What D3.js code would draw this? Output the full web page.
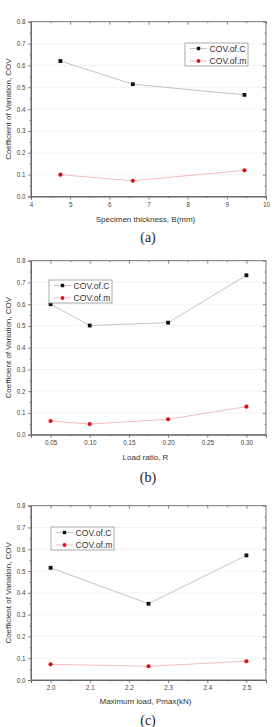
<!DOCTYPE html>
<html><head><meta charset="utf-8">
<script src="https://cdn.jsdelivr.net/npm/d3@7"></script>
<style>body{margin:0;background:#fff;}svg{display:block;}</style>
</head><body>
<script>
// Panel (a)
const thicknessB = [4.75, 6.6, 9.45];
const covC_a = [0.62, 0.514, 0.465];
const covM_a = [0.10, 0.072, 0.12];
// Panel (b)
const loadRatioR = [0.05, 0.10, 0.20, 0.30];
const covC_b = [0.60, 0.502, 0.515, 0.733];
const covM_b = [0.063, 0.049, 0.071, 0.129];
// Panel (c)
const maxLoadP = [2.0, 2.25, 2.5];
const covC_c = [0.515, 0.35, 0.572];
const covM_c = [0.072, 0.063, 0.086];

const yTicks = [0.0,0.1,0.2,0.3,0.4,0.5,0.6,0.7,0.8];
const seriesNames = ["COV.of.C", "COV.of.m"];
const yTitle = "Coefficient of Variation, COV";

const panels = [
  {x: thicknessB, c: covC_a, m: covM_a, xdom:[4,10], xt:[4,5,6,7,8,9,10], xminor:[4.5,5.5,6.5,7.5,8.5,9.5], fmt: d3.format("d"),
   top:21.7, bottom:196.5, xlabel:"Specimen thickness, B(mm)", caption:"(a)", xlabY:219, capY:237, leg:[185,43]},
  {x: loadRatioR, c: covC_b, m: covM_b, xdom:[0.025,0.325], xt:[0.05,0.10,0.15,0.20,0.25,0.30], xminor:[0.075,0.125,0.175,0.225,0.275], fmt: d3.format(".2f"),
   top:260.7, bottom:434.7, xlabel:"Load ratio, R", caption:"(b)", xlabY:457, capY:477, leg:[49,280]},
  {x: maxLoadP, c: covC_c, m: covM_c, xdom:[1.95,2.55], xt:[2.0,2.1,2.2,2.3,2.4,2.5], xminor:[2.05,2.15,2.25,2.35,2.45], fmt: d3.format(".1f"),
   top:505.7, bottom:680, xlabel:"Maximum load, Pmax(kN)", caption:"(c)", xlabY:701, capY:720, leg:[51,527]}
];

const W = 272, H = 727;
const left = 31, right = 266;
const svg = d3.select("body").append("svg").attr("width", W).attr("height", H);
const axisCol = "#666", textCol = "#444";
const sans = "'Liberation Sans', Arial, sans-serif";

panels.forEach(p => {
  const x = d3.scaleLinear().domain(p.xdom).range([left, right]);
  const y = d3.scaleLinear().domain([0, 0.8]).range([p.bottom, p.top]);
  const g = svg.append("g");

  // faint gridlines
  g.selectAll(".grid").data(yTicks.slice(1, -1)).enter().append("line")
    .attr("x1", left).attr("x2", right).attr("y1", d => y(d)).attr("y2", d => y(d))
    .attr("stroke", "#f0f0f0").attr("stroke-width", 0.8);

  const yMinor = d3.range(0.05, 0.8, 0.1);

  // left axis
  g.append("g").attr("transform", `translate(${left},0)`)
    .call(d3.axisLeft(y).tickValues(yTicks).tickFormat(d3.format(".1f")).tickSize(3).tickPadding(2.5));
  g.append("g").attr("transform", `translate(${left},0)`)
    .call(d3.axisLeft(y).tickValues(yMinor).tickFormat("").tickSize(1.5)).call(a => a.select(".domain").remove());
  // right axis (inward)
  g.append("g").attr("transform", `translate(${right},0)`)
    .call(d3.axisLeft(y).tickValues(yTicks).tickFormat("").tickSize(3)).call(a => a.select(".domain").remove());
  g.append("g").attr("transform", `translate(${right},0)`)
    .call(d3.axisLeft(y).tickValues(yMinor).tickFormat("").tickSize(1.5)).call(a => a.select(".domain").remove());
  // bottom axis
  g.append("g").attr("transform", `translate(0,${p.bottom})`)
    .call(d3.axisBottom(x).tickValues(p.xt).tickFormat(p.fmt).tickSize(3).tickPadding(3));
  g.append("g").attr("transform", `translate(0,${p.bottom})`)
    .call(d3.axisBottom(x).tickValues(p.xminor).tickFormat("").tickSize(1.5)).call(a => a.select(".domain").remove());
  // top axis (inward)
  g.append("g").attr("transform", `translate(0,${p.top})`)
    .call(d3.axisBottom(x).tickValues(p.xt).tickFormat("").tickSize(3)).call(a => a.select(".domain").remove());
  g.append("g").attr("transform", `translate(0,${p.top})`)
    .call(d3.axisBottom(x).tickValues(p.xminor).tickFormat("").tickSize(1.5)).call(a => a.select(".domain").remove());

  // frame
  g.append("rect").attr("x", left).attr("y", p.top).attr("width", right - left).attr("height", p.bottom - p.top)
    .attr("fill", "none").attr("stroke", axisCol).attr("stroke-width", 0.9);

  g.selectAll(".domain").attr("stroke", axisCol);
  g.selectAll(".tick line").attr("stroke", axisCol).attr("stroke-width", 0.8);
  g.selectAll(".tick text").attr("fill", textCol).style("font-family", sans).style("font-size", "6.3px");

  // lines
  const lineC = d3.line().x((d, i) => x(p.x[i])).y(d => y(d));
  g.append("path").datum(p.c).attr("d", lineC).attr("fill", "none").attr("stroke", "#aaa").attr("stroke-width", 0.7);
  g.append("path").datum(p.m).attr("d", lineC).attr("fill", "none").attr("stroke", "#f0a0a0").attr("stroke-width", 0.7);

  g.selectAll(".mc").data(p.c).enter().append("rect")
    .attr("x", (d, i) => x(p.x[i]) - 1.9).attr("y", d => y(d) - 1.9).attr("width", 3.8).attr("height", 3.8).attr("fill", "#111");
  g.selectAll(".mm").data(p.m).enter().append("circle")
    .attr("cx", (d, i) => x(p.x[i])).attr("cy", d => y(d)).attr("r", 2.1).attr("fill", "#e01010");

  // legend
  const [lx, ly] = p.leg;
  const lg = g.append("g");
  lg.append("rect").attr("x", lx).attr("y", ly).attr("width", 63).attr("height", 23)
    .attr("fill", "#fff").attr("stroke", "#888").attr("stroke-width", 0.7);
  seriesNames.forEach((name, i) => {
    const ry = ly + 5.5 + i * 12.5;
    lg.append("line").attr("x1", lx + 5).attr("x2", lx + 22).attr("y1", ry).attr("y2", ry)
      .attr("stroke", i === 0 ? "#aaa" : "#f0a0a0").attr("stroke-width", 0.7);
    if (i === 0) lg.append("rect").attr("x", lx + 13.5 - 1.7).attr("y", ry - 1.7).attr("width", 3.4).attr("height", 3.4).attr("fill", "#111");
    else lg.append("circle").attr("cx", lx + 13.5).attr("cy", ry).attr("r", 1.9).attr("fill", "#e01010");
    lg.append("text").attr("x", lx + 24.5).attr("y", ry).attr("dy", "0.35em").text(name)
      .attr("fill", "#333").style("font-family", sans).style("font-size", "8.6px");
  });

  // axis titles
  g.append("text").attr("x", (left + right) / 2 - 3).attr("y", p.xlabY).attr("dy", "0.35em").attr("text-anchor", "middle")
    .text(p.xlabel).attr("fill", "#333").style("font-family", sans).style("font-size", "8px");
  g.append("text").attr("transform", `translate(8,${(p.top + p.bottom) / 2}) rotate(-90)`).attr("dy", "0.35em")
    .attr("text-anchor", "middle").text(yTitle).attr("fill", "#333").style("font-family", sans).style("font-size", "8px");
  // caption
  g.append("text").attr("x", 148).attr("y", p.capY).attr("dy", "0.35em").attr("text-anchor", "middle")
    .text(p.caption).attr("fill", "#222").style("font-family", "'Liberation Serif', 'Times New Roman', serif").style("font-size", "14px");
});
</script>
</body></html>
